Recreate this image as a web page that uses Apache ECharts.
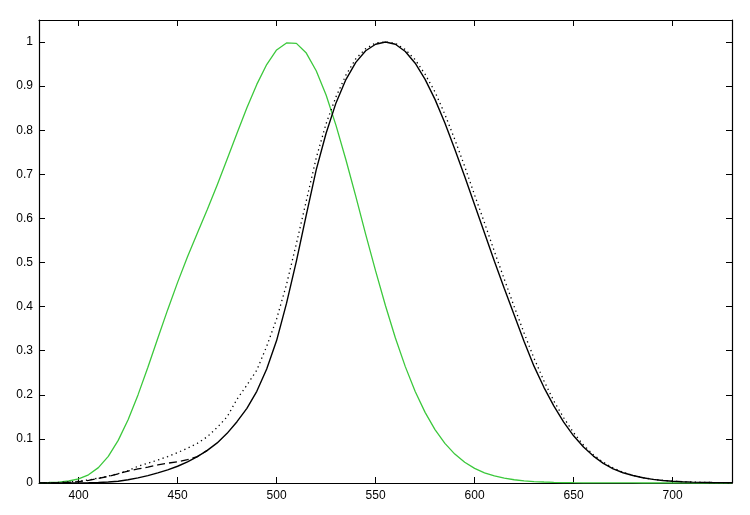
<!DOCTYPE html>
<html>
<head>
<meta charset="utf-8">
<script src="https://cdn.jsdelivr.net/npm/echarts@6/dist/echarts.min.js"></script>
<style>html,body{margin:0;padding:0;background:#fff;}#c{width:750px;height:515px;}</style>
</head>
<body>
<div id="c"></div>
<script>
var wavelengths = [380,385,390,395,400,405,410,415,420,425,430,435,440,445,450,455,460,465,470,475,480,485,490,495,500,505,510,515,520,525,530,535,540,545,550,555,560,565,570,575,580,585,590,595,600,605,610,615,620,625,630,635,640,645,650,655,660,665,670,675,680,685,690,695,700,705,710,715,720,725,730];

var scotopic = [0.000589,0.001108,0.002209,0.00453,0.00929,0.01852,0.03484,0.0604,0.0966,0.1436,0.1998,0.2625,0.3281,0.3931,0.455,0.513,0.567,0.6204,0.676,0.734,0.793,0.851,0.904,0.949,0.982,0.998,0.997,0.975,0.935,0.88,0.811,0.733,0.65,0.564,0.481,0.402,0.3288,0.2639,0.2076,0.1602,0.1212,0.0899,0.0655,0.0469,0.03315,0.02312,0.01593,0.01088,0.00737,0.00497,0.003335,0.002235,0.001497,0.001005,0.000677,0.000459,0.0003129,0.0002146,0.000148,0.0001026,0.0000715,0.0000501,0.0000353,0.000025,0.0000178,0.0000127,0.0000091,0.0000066,0.0000048,0.0000035,0.0000025];

var photopic = [0.000039,0.000064,0.00012,0.000217,0.000396,0.00064,0.00121,0.00218,0.004,0.0073,0.0116,0.01684,0.023,0.0298,0.038,0.048,0.06,0.0739,0.09098,0.1126,0.13902,0.1693,0.208,0.2586,0.323,0.4073,0.503,0.6082,0.71,0.7932,0.862,0.91485,0.954,0.9803,0.99495,1.0,0.995,0.9786,0.952,0.9154,0.87,0.8163,0.757,0.6949,0.631,0.5668,0.503,0.4412,0.381,0.321,0.265,0.217,0.175,0.1382,0.107,0.0816,0.061,0.04458,0.032,0.0232,0.017,0.01192,0.00821,0.005723,0.004102,0.002929,0.002091,0.001484,0.001047,0.00074,0.00052];

var dashedShort = [0.0002,0.0004,0.0008,0.0015,0.003,0.006,0.0105,0.015,0.021,0.027,0.032,0.036,0.041,0.045,0.048,0.053,0.06,0.0739];

var dottedPhotopic = [0.0003,0.0006,0.0012,0.0025,0.004,0.007,0.011,0.016,0.021,0.028,0.038,0.045,0.052,0.06,0.069,0.079,0.09,0.105,0.126,0.15,0.19,0.222,0.256,0.31,0.372,0.45,0.543,0.64,0.737,0.815,0.876,0.925,0.962,0.985,0.998,1.0,0.997,0.983,0.96,0.927,0.887,0.836,0.779,0.718,0.653,0.59,0.525,0.462,0.40,0.34,0.283,0.232,0.186,0.148,0.114,0.086,0.064,0.047,0.034,0.024,0.0175,0.012,0.0085,0.006,0.0042,0.003,0.0021,0.0015,0.001,0.0007,0.0005];

var xTicks = [400,450,500,550,600,650,700];
var yTickStep = 0.1;

function pairs(vals){
  var out = [];
  for (var i = 0; i < vals.length; i++) out.push([wavelengths[i], vals[i]]);
  return out;
}

var chart = echarts.init(document.getElementById('c'), null, {renderer:'canvas'});
var fontFam = 'Liberation Sans, Arial, sans-serif';
var axLine = {show:true, onZero:false, lineStyle:{color:'#000', width:1.2}};
function yFmt(v){ if (v > 1.001) return ''; var s = (+v).toFixed(1); return s.replace(/\.0$/, ''); }

chart.setOption({
  animation:false,
  backgroundColor:'#fff',
  grid:{left:39, right:18, top:20, bottom:32, containLabel:false},
  xAxis:[
    {type:'value', min:380, max:730, position:'bottom', axisLine:axLine,
     axisTick:{show:true, inside:true, length:6, customValues:xTicks, lineStyle:{color:'#000'}},
     axisLabel:{customValues:xTicks, color:'#000', fontSize:12, margin:7, fontFamily:fontFam},
     splitLine:{show:false}},
    {type:'value', min:380, max:730, position:'top', axisLine:axLine,
     axisTick:{show:true, inside:true, length:6, customValues:xTicks, lineStyle:{color:'#000'}},
     axisLabel:{show:false}, splitLine:{show:false}}
  ],
  yAxis:[
    {type:'value', min:0, max:1.05, interval:yTickStep, position:'left', axisLine:axLine,
     axisTick:{show:true, inside:true, length:6, lineStyle:{color:'#000'}},
     axisLabel:{color:'#000', fontSize:12, margin:6, fontFamily:fontFam, formatter:yFmt, showMaxLabel:false},
     splitLine:{show:false}},
    {type:'value', min:0, max:1.05, interval:yTickStep, position:'right', axisLine:axLine,
     axisTick:{show:true, inside:true, length:6, lineStyle:{color:'#000'}},
     axisLabel:{show:false}, splitLine:{show:false}}
  ],
  series:[
    {type:'line', name:'scotopic', data:pairs(scotopic), showSymbol:false, symbol:'none',
     lineStyle:{color:'#3cc83c', width:1.3}, xAxisIndex:0, yAxisIndex:0, z:2},
    {type:'line', name:'photopic', data:pairs(photopic), showSymbol:false, symbol:'none',
     lineStyle:{color:'#000', width:1.4}, xAxisIndex:0, yAxisIndex:0, z:3},
    {type:'line', name:'dashed', data:pairs(dashedShort), showSymbol:false, symbol:'none',
     lineStyle:{color:'#000', width:1.3, type:[8,4]}, xAxisIndex:0, yAxisIndex:0, z:3},
    {type:'line', name:'dotted', data:pairs(dottedPhotopic), showSymbol:false, symbol:'none',
     lineStyle:{color:'#000', width:1.3, type:[1.3,3.4]}, xAxisIndex:0, yAxisIndex:0, z:3}
  ]
});
</script>
</body>
</html>
